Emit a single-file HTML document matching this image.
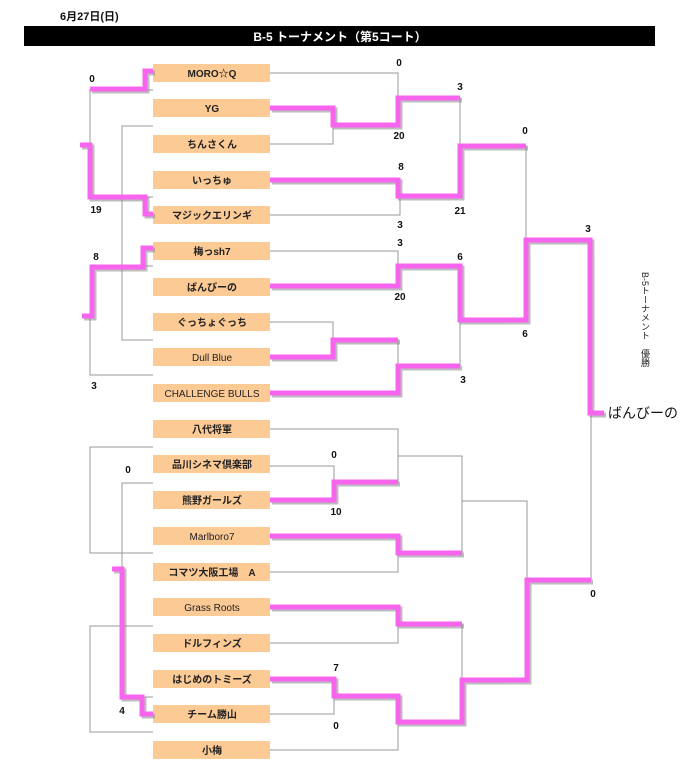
<!DOCTYPE html>
<html><head><meta charset="utf-8"><style>
html,body{margin:0;padding:0;background:#fff;}
svg{display:block;}
text{font-family:"Liberation Sans","Noto Sans CJK JP",sans-serif;}
</style></head><body>
<svg width="680" height="780" viewBox="0 0 680 780" xmlns="http://www.w3.org/2000/svg">
<text x="60" y="20" font-size="11" font-weight="bold" fill="#111">6月27日(日)</text>
<rect x="24" y="26" width="631" height="20" fill="#000"/>
<text x="340" y="41" font-size="12" font-weight="bold" fill="#fff" text-anchor="middle">B-5 トーナメント（第5コート）</text>

<g fill="#fcca95">
<rect x="153" y="64" width="117" height="18"/><rect x="153" y="99" width="117" height="18"/>
<rect x="153" y="135" width="117" height="18"/><rect x="153" y="171" width="117" height="18"/>
<rect x="153" y="206" width="117" height="18"/><rect x="153" y="242" width="117" height="18"/>
<rect x="153" y="278" width="117" height="18"/><rect x="153" y="313" width="117" height="18"/>
<rect x="153" y="348" width="117" height="18"/><rect x="153" y="384" width="117" height="18"/>
<rect x="153" y="420" width="117" height="18"/><rect x="153" y="455" width="117" height="18"/>
<rect x="153" y="491" width="117" height="18"/><rect x="153" y="527" width="117" height="18"/>
<rect x="153" y="563" width="117" height="18"/><rect x="153" y="598" width="117" height="18"/>
<rect x="153" y="634" width="117" height="18"/><rect x="153" y="670" width="117" height="18"/>
<rect x="153" y="705" width="117" height="18"/><rect x="153" y="741" width="117" height="18"/>
</g>
<g font-size="10" font-weight="bold" fill="#222" text-anchor="middle">
<text x="212" y="77">MORO☆Q</text><text x="212" y="112">YG</text>
<text x="212" y="148">ちんさくん</text><text x="212" y="184">いっちゅ</text>
<text x="212" y="219">マジックエリンギ</text><text x="212" y="255">梅っsh7</text>
<text x="212" y="291">ばんびーの</text><text x="212" y="326">ぐっちょぐっち</text>
<text x="212" y="361" font-weight="normal">Dull Blue</text><text x="212" y="397" font-weight="normal">CHALLENGE BULLS</text>
<text x="212" y="433">八代将軍</text><text x="212" y="468">品川シネマ倶楽部</text>
<text x="212" y="504">熊野ガールズ</text><text x="212" y="540" font-weight="normal">Marlboro7</text>
<text x="212" y="576">コマツ大阪工場　A</text><text x="212" y="611" font-weight="normal">Grass Roots</text>
<text x="212" y="647">ドルフィンズ</text><text x="212" y="683">はじめのトミーズ</text>
<text x="212" y="718">チーム勝山</text><text x="212" y="754">小梅</text>
</g>

<g stroke="#999" stroke-width="1" fill="none">
<!-- left side -->
<path d="M90 89V145M145 90H153M145 197H153M145 266H153"/>
<path d="M153 126H122V340H153"/>
<path d="M90 316V375H153"/>
<path d="M153 447H90V553H153"/>
<path d="M153 483H122V590"/>
<path d="M145 697H153"/>
<path d="M153 626H90V732H153"/>
<!-- right top -->
<path d="M270 73H398V98"/>
<path d="M270 144H333V125"/>
<path d="M270 215H400V196"/>
<path d="M460 98V146"/>
<path d="M526 146V240"/>
<path d="M270 251H398V266"/>
<path d="M270 322H333V340"/>
<path d="M398 340V366"/>
<path d="M460 320V366"/>
<!-- right bottom -->
<path d="M270 429H398V482"/>
<path d="M270 466H334V482"/>
<path d="M398 456H462V553"/>
<path d="M270 572H398V553"/>
<path d="M462 501H527V580"/>
<path d="M591 413V580"/>
<path d="M270 643H398V624"/>
<path d="M462 624V680"/>
<path d="M270 714H334V696"/>
<path d="M270 750H398V722"/>
</g>

<g id="pk" fill="none" stroke-width="5" stroke-linejoin="miter">
<g stroke="#888" opacity="0.55" transform="translate(2,2)">
<path d="M90 89H145V71H153"/>
<path d="M80 145H90V197H145V214H153"/>
<path d="M82 316H92V267H143V248H153"/>
<path d="M112 569H122V697H142V714H153"/>
<path d="M270 108H333V125H398V98H460"/>
<path d="M270 180H398V196H460V146H526"/>
<path d="M270 286H398V266H460V320H526V240H590V413H604"/>
<path d="M270 357H333V340H398"/>
<path d="M270 393H398V366H460"/>
<path d="M270 500H334V482H398"/>
<path d="M270 536H398V553H462"/>
<path d="M270 607H398V624H462"/>
<path d="M270 679H334V696H398V722H462V680H527V580H591"/>
</g>
<g stroke="#f764ee">
<path d="M90 89H145V71H153"/>
<path d="M80 145H90V197H145V214H153"/>
<path d="M82 316H92V267H143V248H153"/>
<path d="M112 569H122V697H142V714H153"/>
<path d="M270 108H333V125H398V98H460"/>
<path d="M270 180H398V196H460V146H526"/>
<path d="M270 286H398V266H460V320H526V240H590V413H604"/>
<path d="M270 357H333V340H398"/>
<path d="M270 393H398V366H460"/>
<path d="M270 500H334V482H398"/>
<path d="M270 536H398V553H462"/>
<path d="M270 607H398V624H462"/>
<path d="M270 679H334V696H398V722H462V680H527V580H591"/>
</g>
</g>

<g font-size="10" font-weight="bold" fill="#111" text-anchor="middle">
<text x="92" y="82">0</text><text x="96" y="213">19</text><text x="96" y="260">8</text><text x="94" y="389">3</text>
<text x="128" y="473">0</text><text x="122" y="714">4</text>
<text x="399" y="66">0</text><text x="399" y="139">20</text><text x="460" y="90">3</text>
<text x="401" y="170">8</text><text x="400" y="228">3</text><text x="460" y="214">21</text><text x="525" y="134">0</text>
<text x="400" y="246">3</text><text x="400" y="300">20</text><text x="460" y="260">6</text><text x="525" y="337">6</text>
<text x="588" y="232">3</text><text x="463" y="383">3</text>
<text x="334" y="458">0</text><text x="336" y="515">10</text><text x="336" y="671">7</text><text x="336" y="729">0</text>
<text x="593" y="597">0</text>
</g>
<text x="608" y="418" font-size="14" fill="#111">ばんびーの</text>
<text x="645" y="272" font-size="9" fill="#222" style="writing-mode:vertical-rl;" letter-spacing="0">B-5トーナメント　優勝</text>
</svg>
</body></html>
